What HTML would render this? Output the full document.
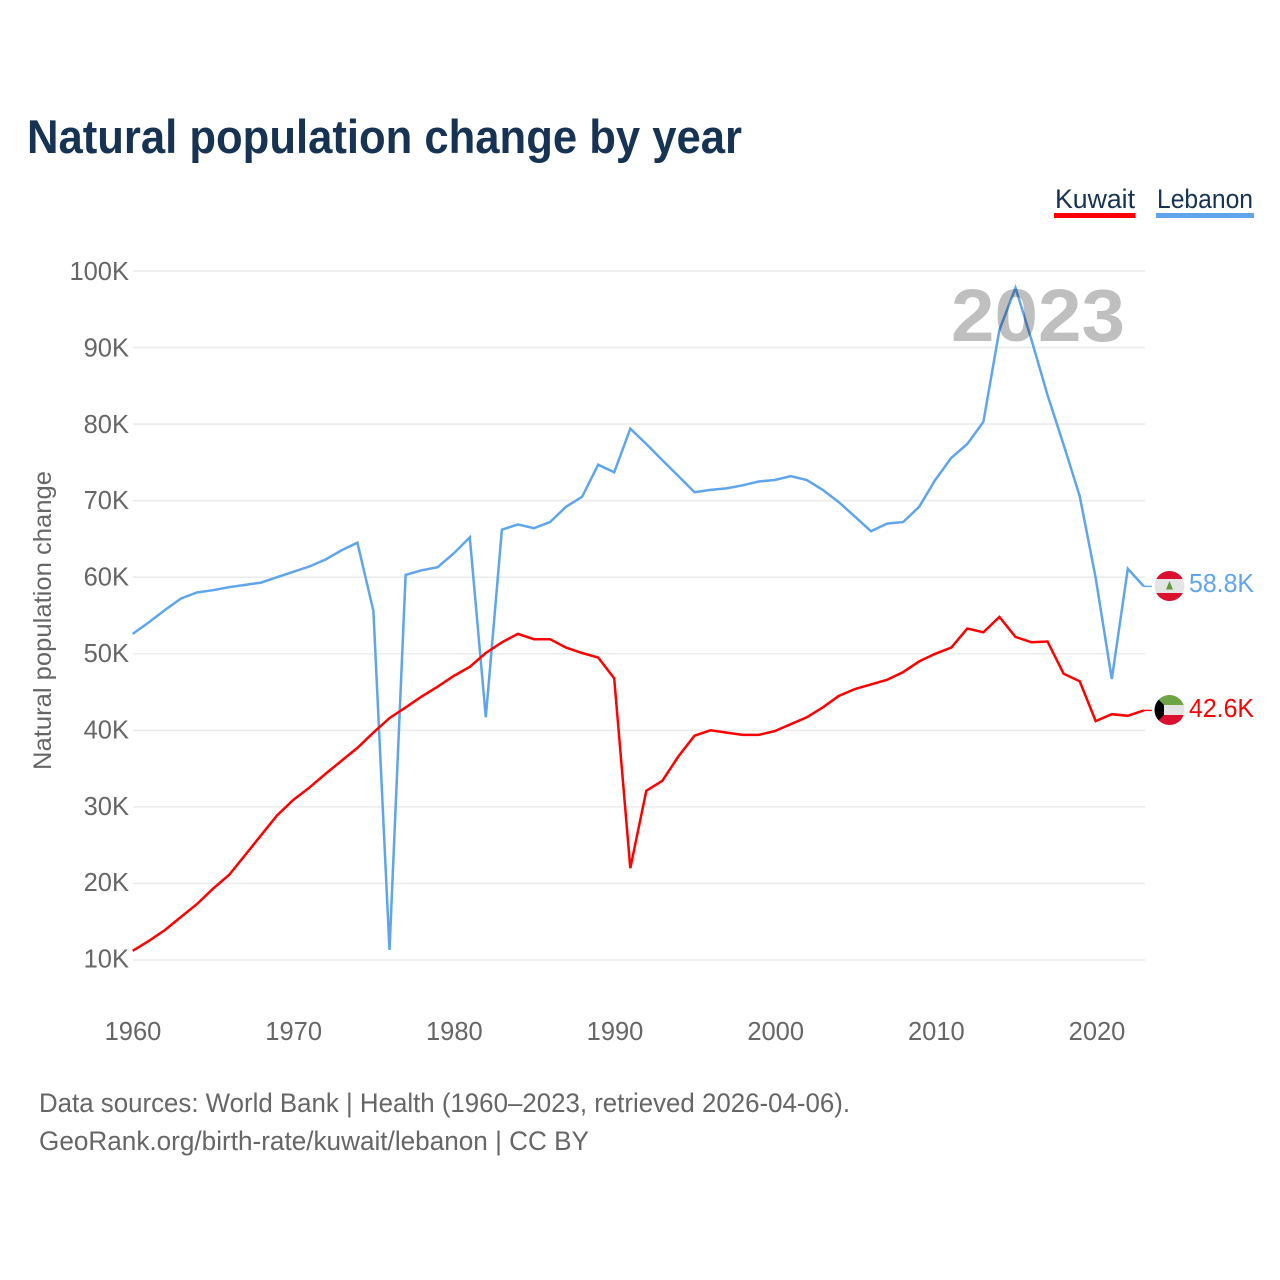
<!DOCTYPE html>
<html lang="en">
<head>
<meta charset="utf-8">
<title>Natural population change by year</title>
<style>
html,body{margin:0;padding:0;background:#fff;}
svg{display:block;font-family:"Liberation Sans",sans-serif;}
</style>
</head>
<body>
<svg id="chart" width="1280" height="1280" viewBox="0 0 1280 1280" xmlns="http://www.w3.org/2000/svg">
  <defs>
    <clipPath id="clip-lb"><circle cx="1169.5" cy="586" r="15"/></clipPath>
    <clipPath id="clip-kw"><circle cx="1169.5" cy="710" r="15"/></clipPath>
  </defs>
  <rect width="1280" height="1280" fill="#fff"/>
  <text x="27" y="153" font-size="47" font-weight="700" fill="#173353" textLength="715" lengthAdjust="spacingAndGlyphs">Natural population change by year</text>

  <g>
    <text x="1055" y="208" font-size="27" fill="#173353" textLength="80" lengthAdjust="spacingAndGlyphs">Kuwait</text>
    <rect x="1054" y="213" width="81.5" height="5" fill="#ff0000"/>
  </g>
  <g>
    <text x="1157" y="208" font-size="27" fill="#173353" textLength="96" lengthAdjust="spacingAndGlyphs">Lebanon</text>
    <rect x="1156" y="213" width="98" height="5" fill="#5fa5ec"/>
  </g>

  <g id="grid"></g>
  <g id="y-ticks"></g>
  <g id="x-ticks"></g>
  <text transform="translate(51,770) rotate(-90)" x="0" y="0" font-size="25" fill="#666" textLength="299" lengthAdjust="spacingAndGlyphs">Natural population change</text>

  <g id="series"></g>

  <text x="951" y="341" font-size="74" font-weight="700" fill="#000" fill-opacity="0.25" textLength="174" lengthAdjust="spacingAndGlyphs">2023</text>

  <g clip-path="url(#clip-lb)">
    <rect x="1154" y="571" width="31" height="31" fill="#e4e4e4"/>
    <rect x="1154" y="571" width="31" height="8" fill="#db0f2e"/>
    <rect x="1154" y="593" width="31" height="9" fill="#db0f2e"/>
    <polygon points="1169.5,581 1173,589.5 1166,589.5" fill="#5c9a3c"/>
  </g>
  <g clip-path="url(#clip-kw)">
    <rect x="1154" y="695" width="31" height="11" fill="#6da544"/>
    <rect x="1154" y="705" width="31" height="10" fill="#e4e4e4"/>
    <rect x="1154" y="715" width="31" height="11" fill="#db0f2e"/>
    <polygon points="1154,695 1164,705 1164,715 1154,725" fill="#000"/>
  </g>

  <text x="1189" y="592" font-size="26" fill="#5fa5ec" textLength="65" lengthAdjust="spacingAndGlyphs">58.8K</text>
  <text x="1189" y="717" font-size="26" fill="#ff0000" textLength="65" lengthAdjust="spacingAndGlyphs">42.6K</text>

  <text x="39" y="1112" font-size="26.5" fill="#666" textLength="811" lengthAdjust="spacingAndGlyphs">Data sources: World Bank | Health (1960–2023, retrieved 2026-04-06).</text>
  <text x="39" y="1150" font-size="26.5" fill="#666" textLength="550" lengthAdjust="spacingAndGlyphs">GeoRank.org/birth-rate/kuwait/lebanon | CC BY</text>
</svg>
<script>
const startYear = 1960;
const yTickValues = [10, 20, 30, 40, 50, 60, 70, 80, 90, 100];
const xTickYears = [1960, 1970, 1980, 1990, 2000, 2010, 2020];
const kuwaitValues = [11.2,12.5,13.9,15.6,17.3,19.3,21.1,23.7,26.3,28.9,30.9,32.5,34.3,36.0,37.7,39.7,41.6,43.0,44.4,45.7,47.1,48.3,50.1,51.5,52.6,51.9,51.9,50.8,50.1,49.5,46.8,22.0,32.1,33.4,36.6,39.3,40.0,39.7,39.4,39.4,39.9,40.8,41.7,43.0,44.5,45.4,46.0,46.6,47.6,49.0,50.0,50.8,53.3,52.8,54.8,52.2,51.5,51.6,47.4,46.4,41.2,42.1,41.9,42.6];
const lebanonValues = [52.6,54.1,55.7,57.2,58.0,58.3,58.7,59.0,59.3,60.0,60.7,61.4,62.3,63.5,64.5,55.6,11.3,60.3,60.9,61.3,63.1,65.2,41.7,66.2,66.9,66.4,67.2,69.2,70.5,74.7,73.7,79.4,77.4,75.3,73.2,71.1,71.4,71.6,72.0,72.5,72.7,73.2,72.7,71.4,69.8,67.9,66.0,67.0,67.2,69.2,72.7,75.6,77.4,80.3,92.3,97.8,91.0,83.8,77.3,70.6,59.9,46.7,61.1,58.8];

const NS = 'http://www.w3.org/2000/svg';
function xTick(year) { return 133 + (year - 1960) * 16.067; }
function xScale(year) { return 132.7 + (year - 1960) * 16.05; }
function yScale(v) { return 960 - (v - 10) * 7.656; }
function yLabel(v) { return 280 + (100 - v) * 7.64; }
function make(tag, attrs, parent, txt) {
  const el = document.createElementNS(NS, tag);
  for (const k in attrs) el.setAttribute(k, attrs[k]);
  if (txt !== undefined) el.textContent = txt;
  parent.appendChild(el);
  return el;
}
const gridG = document.getElementById('grid');
const yG = document.getElementById('y-ticks');
const xG = document.getElementById('x-ticks');
const seriesG = document.getElementById('series');

yTickValues.forEach(function (v) {
  const line = make('line', {x1: 133, x2: 1145, y1: yScale(v), y2: yScale(v), stroke: '#ececec', 'stroke-width': 1.6}, gridG);
  
  
  const label = make('text', {x: 129, y: yLabel(v), 'text-anchor': 'end', 'font-size': 25.5, fill: '#666'}, yG, v + 'K');
  
  
});
xTickYears.forEach(function (yr) {
  const label = make('text', {x: xTick(yr), y: 1040, 'text-anchor': 'middle', 'font-size': 25.5, fill: '#666'}, xG, String(yr));
  
  
});
function drawSeries(values, color) {
  const pts = values.map(function (v, i) { return xScale(startYear + i).toFixed(1) + ',' + yScale(v).toFixed(1); });
  return make('polyline', {points: pts.join(' '), fill: 'none', stroke: color, 'stroke-width': 2.5, 'stroke-linejoin': 'miter'}, seriesG);
}
function drawTail(values, color) {
  const last = values[values.length - 1];
  const lastX = xScale(startYear + values.length - 1);
  return make('line', {x1: lastX, x2: lastX + 8, y1: yScale(last), y2: yScale(last), stroke: color, 'stroke-width': 1.4}, seriesG);
}
const lebanonLine = drawSeries(lebanonValues, '#5fa5ec');


const lebanonTail = drawTail(lebanonValues, '#5fa5ec');


const kuwaitLine = drawSeries(kuwaitValues, '#ff0000');


const kuwaitTail = drawTail(kuwaitValues, '#ff0000');


</script>
</body>
</html>
